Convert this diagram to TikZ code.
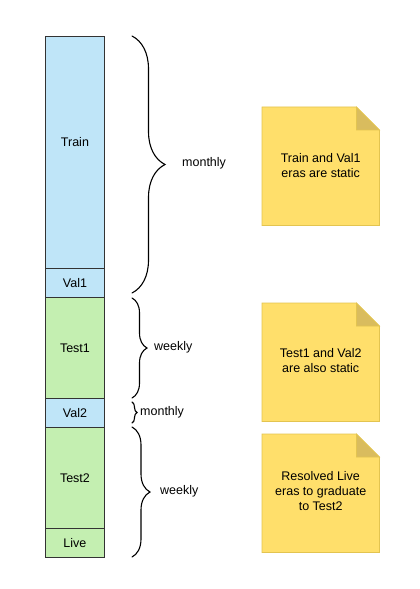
\documentclass[tikz,border=0pt]{standalone}
\usepackage{fontspec}
\setmainfont{Liberation Sans}
\usetikzlibrary{decorations.pathreplacing,calc}
\definecolor{blueera}{HTML}{BFE5F8}
\definecolor{greenera}{HTML}{C4EFB1}
\definecolor{notefill}{HTML}{FFDF6B}
\definecolor{notefold}{HTML}{D9BC5E}
\definecolor{noteline}{HTML}{E3C450}
\definecolor{edgegray}{HTML}{333333}
\begin{document}
\begin{tikzpicture}[x=1bp,y=-1bp,
  font=\fontsize{12.5bp}{15bp}\selectfont,
  era/.style={draw=edgegray, line width=0.9bp, minimum width=59bp, inner sep=0pt, anchor=north west},
  blueblk/.style={era, fill=blueera},
  greenblk/.style={era, fill=greenera},
  notebox/.style={minimum width=117bp, minimum height=118bp, inner sep=0pt, anchor=north west, align=center},
  bracestyle/.style={draw=black, line width=1.1bp, line cap=round, decorate, decoration={brace, amplitude=#1}},
  lbl/.style={anchor=west, inner sep=0pt}
]
\useasboundingbox (0,0) rectangle (419,589);

% column
\node[blueblk, minimum height=232bp] (train) at (45,36) {};
\node at ($(train.center)+(0,-10)$) {Train};
\node[blueblk, minimum height=29bp] (val1) at (45,268) {Val1};
\node[greenblk, minimum height=101bp] (test1) at (45,297) {Test1};
\node[blueblk, minimum height=29bp] (val2) at (45,398) {Val2};
\node[greenblk, minimum height=101bp] (test2) at (45,427) {Test2};
\node[greenblk, minimum height=29bp] (live) at (45,528) {Live};

% braces
\coordinate (b1s) at (132,36);  \coordinate (b1e) at (132,293);
\coordinate (b2s) at (132,298); \coordinate (b2e) at (132,398);
\coordinate (b3s) at (132,402); \coordinate (b3e) at (132,423);
\coordinate (b4s) at (132,427); \coordinate (b4e) at (132,557);
\draw[bracestyle=33bp] (b1s) -- (b1e);
\draw[bracestyle=15bp] (b2s) -- (b2e);
\draw[bracestyle=5bp] (b3s) -- (b3e);
\draw[bracestyle=18bp] (b4s) -- (b4e);
\node[lbl] (l1) at (182,163) {monthly};
\node[lbl] (l2) at (154,347) {weekly};
\node[lbl] (l3) at (140,412) {monthly};
\node[lbl] (l4) at (160,491) {weekly};

% notes
\node[notebox] (n1) at (262,107) {};
\node[notebox] (n2) at (262,303) {};
\node[notebox] (n3) at (262,434) {};
\foreach \n in {n1,n2,n3}{
  \filldraw[fill=notefill, draw=noteline, line width=0.8bp]
    (\n.north west) -- ($(\n.north east)+(-23,0)$) -- ($(\n.north east)+(0,23)$)
    -- (\n.south east) -- (\n.south west) -- cycle;
  \filldraw[fill=notefold, draw=noteline, line width=0.8bp]
    ($(\n.north east)+(-23,0)$) -- ($(\n.north east)+(-23,23)$) -- ($(\n.north east)+(0,23)$) -- cycle;
}
\node[align=center] at ($(n1.center)+(0,-1)$) {Train and Val1\\eras are static};
\node[align=center] at ($(n2.center)+(0,-1.5)$) {Test1 and Val2\\are also static};
\node[align=center] at ($(n3.center)+(0,-2)$) {Resolved Live\\eras to graduate\\to Test2};
\end{tikzpicture}
\end{document}
